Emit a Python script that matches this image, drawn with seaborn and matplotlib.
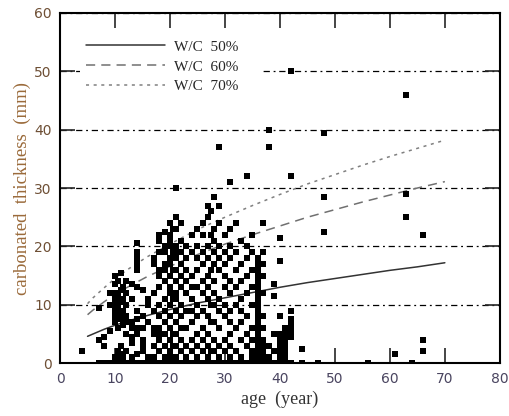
import numpy as np
import pandas as pd
import matplotlib
matplotlib.use("Agg")
import matplotlib.pyplot as plt
import seaborn as sns

col_age = [4, 7, 8, 9, 10, 10.5, 11, 11.5, 12, 13, 14, 15, 16, 17, 18, 19, 20, 20.5,
           21, 22, 23, 24, 25, 26, 27, 27.5, 28, 29, 30, 31, 32, 33, 34, 35, 36, 37,
           38, 39, 40, 41, 42, 44, 47, 48, 56, 61, 63, 64, 66]
col_depth = [
    [2],
    [0, 4, 9.5],
    [0, 3, 4.5],
    [0, 5.5, 10, 12],
    [0, 1, 7, 8, 9, 10, 11, 12, 13.5, 15],
    [0.5, 2, 6, 9.5, 11.5, 14],
    [0, 1.5, 3, 7.5, 8.5, 10.5, 12.5, 15.5],
    [1, 6.5, 9, 11, 13],
    [0, 2, 5, 7, 8, 10, 12, 14],
    [0, 1, 3.5, 4.5, 6, 7, 11, 13.5],
    [0, 1.5, 5, 6, 7.5, 9, 13, 16, 17, 18, 19, 20.5],
    [0, 2, 3, 4, 6, 8, 12.5],
    [0, 1, 7, 10, 11],
    [0, 1, 3, 5, 6, 9, 12, 17, 18],
    [0, 2, 4, 5, 6, 8, 10, 13, 15, 16, 19, 21, 22],
    [0, 1, 3, 5, 7, 9, 11, 14, 16, 17, 19, 20, 22.5],
    [0, 1, 2, 4, 6, 8, 10, 12, 13, 15, 17, 18, 20, 21, 22, 24],
    [3, 5, 11, 16, 19, 23],
    [0, 1, 3, 5, 7, 9, 11, 12, 14, 16, 18, 19, 20, 23, 25, 30],
    [0, 2, 4, 6, 8, 10, 13, 15, 17, 19, 21, 24],
    [0, 1, 3, 6, 9, 12, 14, 16, 18, 20],
    [0, 2, 4, 7, 9, 11, 13, 15, 19, 22],
    [0, 1, 3, 5, 8, 10, 13, 16, 18, 20, 23],
    [0, 2, 4, 6, 9, 12, 14, 17, 19, 22, 24],
    [0, 1, 3, 5, 8, 11, 13, 15, 18, 20, 25, 27],
    [2, 7, 10, 16, 22, 26],
    [0, 2, 4, 7, 10, 12, 14, 17, 19, 21, 23, 28.5],
    [0, 1, 3, 6, 9, 11, 16, 18, 20, 24, 27, 37],
    [0, 2, 4, 8, 10, 13, 15, 17, 19, 22],
    [0, 1, 3, 5, 7, 9, 12, 14, 18, 20, 23, 31],
    [0, 2, 6, 10, 13, 16, 19, 24],
    [0, 1, 4, 7, 9, 11, 14, 17, 21],
    [0, 3, 5, 8, 12, 15, 18, 20, 32],
    [0, 1, 2, 4, 6, 10, 13, 16, 19, 22],
    [0, 1, 2, 3, 4, 5, 6, 7, 8, 9, 10, 11, 12, 13, 14, 15, 16, 17, 18],
    [0, 1, 2, 3, 4, 6, 8, 12, 15, 17, 19, 24],
    [0, 1, 3, 37, 40],
    [0, 2, 5, 11.5, 13.5],
    [0, 1, 2, 3, 4, 5, 8, 17.5, 21.5],
    [0, 1, 2, 3, 4, 5, 6],
    [0, 4.5, 5.5, 6.5, 7.5, 9, 32, 50],
    [0, 2.5],
    [0],
    [22.5, 28.5, 39.5],
    [0],
    [1.5],
    [25, 29, 46],
    [0],
    [2, 4, 22],
]

# prediction curves
fit_age = [5, 6, 8, 10, 13, 16, 20, 25, 30, 35, 40, 45, 50, 55, 60, 65, 70]
wc50 = [4.6, 5.0, 5.8, 6.5, 7.4, 8.2, 9.2, 10.3, 11.2, 12.1, 13.0, 13.8, 14.5, 15.2, 15.9, 16.5, 17.2]
wc60 = [8.3, 9.1, 10.5, 11.8, 13.4, 14.9, 16.6, 18.6, 20.4, 22.0, 23.5, 25.0, 26.3, 27.6, 28.8, 30.0, 31.1]
wc70 = [10.2, 11.2, 12.9, 14.5, 16.5, 18.3, 20.4, 22.9, 25.0, 27.0, 28.9, 30.7, 32.3, 33.9, 35.4, 36.8, 38.2]
mix_labels = ["W/C  50%", "W/C  60%", "W/C  70%"]

pts = pd.DataFrame({
    "age": [a for a, ds in zip(col_age, col_depth) for _ in ds],
    "depth": [d for ds in col_depth for d in ds],
})
curves = pd.DataFrame({
    "age": fit_age * 3,
    "depth": wc50 + wc60 + wc70,
    "mix": [m for m in mix_labels for _ in fit_age],
})

sns.set_theme(style="ticks")
plt.rcParams["font.family"] = ["DejaVu Sans"]

fig = plt.figure(figsize=(5.09, 4.16), dpi=100)
ax = fig.add_axes([0.118, 0.127, 0.864, 0.842])

sns.scatterplot(data=pts, x="age", y="depth", marker="s", s=20, color="black",
                linewidth=0, ax=ax, zorder=3, legend=False)
sns.lineplot(data=curves, x="age", y="depth", hue="mix", style="mix",
             palette={mix_labels[0]: "#333333", mix_labels[1]: "#707070", mix_labels[2]: "#808080"},
             dashes={mix_labels[0]: "", mix_labels[1]: (6, 4), mix_labels[2]: (2, 3)},
             linewidth=1.1, ax=ax, zorder=2)

handles, labels = ax.get_legend_handles_labels()
keep = [(h, l) for h, l in zip(handles, labels) if l.startswith("W/C")]
leg = ax.legend([h for h, _ in keep], [l for _, l in keep], loc="upper left",
                bbox_to_anchor=(0.045, 0.78, 0.41, 0.16), mode="expand",
                borderaxespad=0, frameon=True, fancybox=False, handlelength=5.2,
                handletextpad=0.55, labelspacing=0.4,
                prop={"family": "Liberation Serif", "size": 11})
leg.get_frame().set_facecolor("white")
leg.get_frame().set_edgecolor("none")
leg.get_frame().set_alpha(1)
leg.set_zorder(4)

ax.set_xlim(0, 80)
ax.set_ylim(0, 60)
ax.set_xticks(range(0, 81, 10))
ax.set_yticks(range(0, 61, 10))
ax.set_axisbelow(True)
ax.yaxis.grid(True, linestyle=(0, (5, 3, 1.5, 3)), color="black", linewidth=0.9)

ax.tick_params(direction="in", length=11, width=1.2, top=True, right=True,
               labelsize=10, pad=6)
ax.tick_params(axis="y", labelcolor="#6e4f35")
ax.tick_params(axis="x", labelcolor="#4a4560")
for sp in ax.spines.values():
    sp.set_linewidth(1.5)
    sp.set_color("black")

ax.set_xlabel("age  (year)", fontfamily="Liberation Serif", fontsize=13,
              color="#333333", labelpad=4)
ax.set_ylabel("carbonated  thickness  (mm)", fontfamily="Liberation Serif",
              fontsize=13.5, color="#9a6a3a", labelpad=2)

fig.savefig("out.png", dpi=100)
